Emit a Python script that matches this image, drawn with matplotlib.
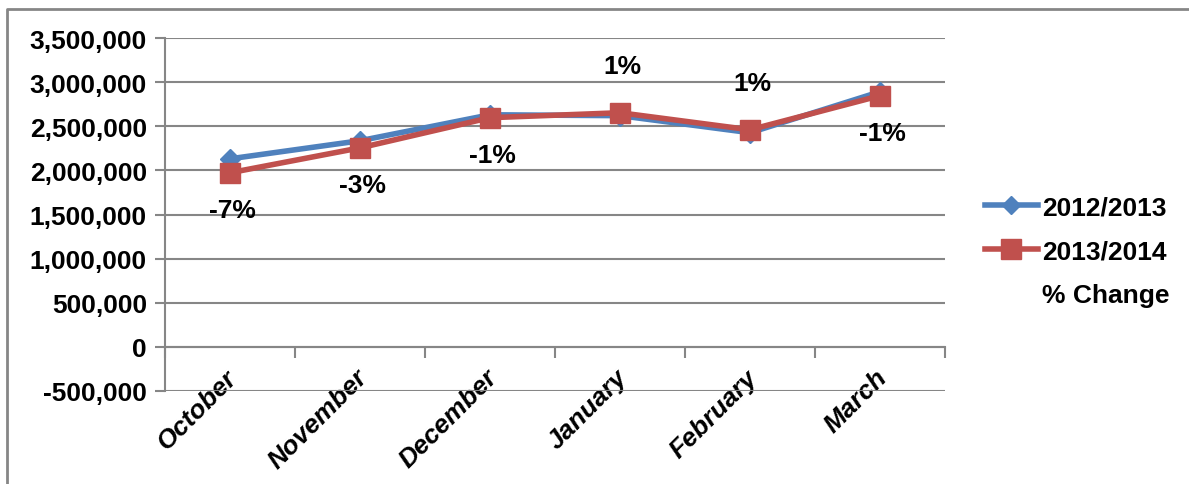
import matplotlib.pyplot as plt
from matplotlib.lines import Line2D
from matplotlib.ticker import FuncFormatter, MultipleLocator

months = ['October', 'November', 'December', 'January', 'February', 'March']
sales_1213 = [2131000, 2336000, 2630000, 2620000, 2427000, 2891000]
sales_1314 = [1973000, 2255000, 2597000, 2653000, 2460000, 2846000]
pct_change = [-7, -3, -1, 1, 1, -1]

plt.rcParams['font.family'] = ['Liberation Sans', 'DejaVu Sans']
plt.rcParams['font.weight'] = 'bold'

blue = '#4f81bd'
red = '#c0504d'
grey = '#868686'
fs = 19

fig = plt.figure(figsize=(11.89, 4.85), dpi=100)
ax = fig.add_axes([165 / 1189, 1 - 392 / 485, 780 / 1189, 353 / 485])

x = list(range(len(months)))
ax.plot(x, sales_1213, color=blue, linewidth=4, marker='D', markersize=10,
        label='2012/2013', zorder=3)
ax.plot(x, sales_1314, color=red, linewidth=4, marker='s', markersize=14,
        label='2013/2014', zorder=4)

# percent change labels: below the point when negative, above when positive
for i, p in enumerate(pct_change):
    dy = -27 if p < 0 else 34
    ax.annotate(f'{p}%', (x[i], sales_1314[i]), xytext=(2, dy),
                textcoords='offset points', ha='center', va='center',
                fontsize=fs, fontweight='bold')

ax.set_xlim(-0.5, 5.5)
ax.set_ylim(-500000, 3500000)
ax.yaxis.set_major_locator(MultipleLocator(500000))
ax.yaxis.set_major_formatter(FuncFormatter(lambda v, _: f'{v:,.0f}'))
ax.grid(axis='y', color=grey, linewidth=1.5)
ax.set_axisbelow(True)

for s in ['top', 'right']:
    ax.spines[s].set_visible(False)
ax.spines['left'].set_color(grey)
ax.spines['left'].set_linewidth(1.5)
ax.spines['bottom'].set_position(('data', 0))
ax.spines['bottom'].set_color(grey)
ax.spines['bottom'].set_linewidth(1.5)

ax.set_xticks([i - 0.04 for i in x])
ax.set_xticklabels(months, rotation=45, ha='right', rotation_mode='anchor',
                   fontsize=fs, fontweight='bold', fontstyle='italic')
ax.set_xticks([i - 0.5 for i in range(len(months) + 1)], minor=True)
ax.tick_params(axis='x', which='major', length=0, pad=13)
ax.tick_params(axis='x', which='minor', length=8, width=1.5, color=grey, direction='out')
ax.tick_params(axis='y', length=7, width=1.5, color=grey, labelsize=fs, pad=6)

handles = [
    Line2D([], [], color=blue, linewidth=4, marker='D', markersize=9),
    Line2D([], [], color=red, linewidth=4, marker='s', markersize=14),
    Line2D([], [], color='none'),
]
fig.legend(handles, ['2012/2013', '2013/2014', '% Change'], loc='center left',
           bbox_to_anchor=(985 / 1189, 1 - 252 / 485), frameon=False,
           borderpad=0, borderaxespad=0,
           prop={'size': fs, 'weight': 'bold'}, handlelength=2.0,
           labelspacing=0.75, handletextpad=0.15)

# outer chart border (left and top)
fig.add_artist(Line2D([7 / 1189, 7 / 1189, 1], [0, 1 - 9.5 / 485, 1 - 9.5 / 485],
                      transform=fig.transFigure, color=grey, linewidth=2))

fig.savefig('out.png', dpi=100)
